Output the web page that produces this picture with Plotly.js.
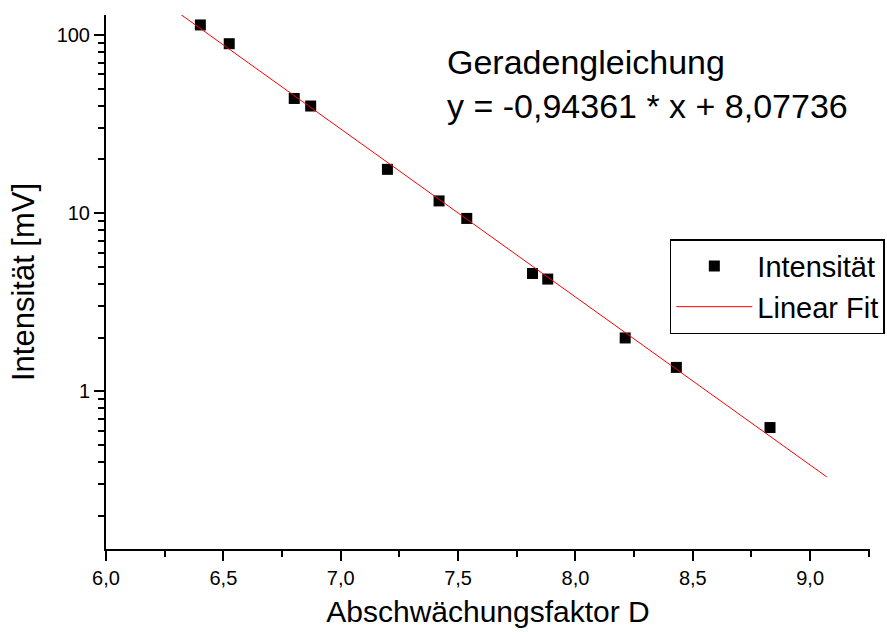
<!DOCTYPE html>
<html>
<head>
<meta charset="utf-8">
<script src="https://cdn.plot.ly/plotly-3.0.1.min.js"></script>
<style>html,body{margin:0;padding:0;background:#fff;}</style>
</head>
<body>
<div id="chart" style="width:887px;height:632px;"></div>
<script>
// Measured data: Abschwächungsfaktor D vs. Intensität [mV]
const dValues = [6.402, 6.525, 6.802, 6.872, 7.199, 7.419, 7.537, 7.817, 7.882, 8.212, 8.430, 8.829];
const intensity = [113.8, 89.3, 44.0, 39.9, 17.6, 11.7, 9.33, 4.58, 4.26, 1.99, 1.36, 0.625];
// Linear fit line endpoints (log10 y = -0.94361 x + 8.07736)
const fitX = [6.318, 9.071];
const fitY = [130.5, 0.33];
const xTickVals = [6.0, 6.5, 7.0, 7.5, 8.0, 8.5, 9.0];
const yTickVals = [1, 10, 100];
const seriesNames = ["Intensität", "Linear Fit"];
const fitText = ["Geradengleichung", "y = -0,94361 * x + 8,07736"];

const FONT = "Liberation Sans, Arial, Helvetica, sans-serif";

const traces = [
  {
    x: dValues, y: intensity, type: "scatter", mode: "markers", name: seriesNames[0],
    marker: {symbol: "square", size: 11, color: "#000000", line: {width: 0}}
  },
  {
    x: fitX, y: fitY, type: "scatter", mode: "lines", name: seriesNames[1],
    line: {color: "#ff0000", width: 1}
  }
];

const layout = {
  width: 887, height: 632,
  margin: {l: 106, r: 17, t: 15, b: 83, autoexpand: false},
  paper_bgcolor: "#ffffff", plot_bgcolor: "#ffffff",
  separators: ",.",
  font: {family: FONT, color: "#000000", size: 20},
  showlegend: true,
  xaxis: {
    range: [6.0, 9.255], tickvals: xTickVals, tickformat: ".1f",
    showgrid: false, zeroline: false, showline: true, linecolor: "#000", linewidth: 2,
    ticks: "outside", ticklen: 10, tickwidth: 2, tickcolor: "#000",
    minor: {ticks: "outside", ticklen: 6, tickwidth: 2, tickcolor: "#000", dtick: 0.25, tick0: 6, showgrid: false},
    tickfont: {size: 20, family: FONT},
    title: {text: "Abschwächungsfaktor D", font: {size: 30, family: FONT}, standoff: 13},
    fixedrange: true
  },
  yaxis: {
    type: "log", range: [-0.886, 2.112], tickvals: yTickVals, tickformat: "d",
    showgrid: false, zeroline: false, showline: true, linecolor: "#000", linewidth: 2,
    ticks: "outside", ticklen: 10, tickwidth: 2, tickcolor: "#000",
    minor: {ticks: "outside", ticklen: 6, tickwidth: 2, tickcolor: "#000", dtick: "D1", showgrid: false},
    tickfont: {size: 20, family: FONT},
    title: {text: "Intensität [mV]", font: {size: 31, family: FONT}, standoff: 13},
    fixedrange: true
  },
  legend: {
    x: 0.738, y: 0.5803, xanchor: "left", yanchor: "top",
    bgcolor: "#ffffff", bordercolor: "#000000", borderwidth: 1.5,
    font: {size: 29, family: FONT}, itemwidth: 76, tracegroupgap: 0
  },
  annotations: [
    {
      xref: "paper", yref: "paper", x: 0.4437, y: 0.951, xanchor: "left", yanchor: "top",
      align: "left", showarrow: false,
      text: fitText.join("<br>"),
      font: {size: 34, family: FONT, color: "#000"}
    }
  ]
};

Plotly.newPlot("chart", traces, layout, {displayModeBar: false, staticPlot: true});
</script>
</body>
</html>
